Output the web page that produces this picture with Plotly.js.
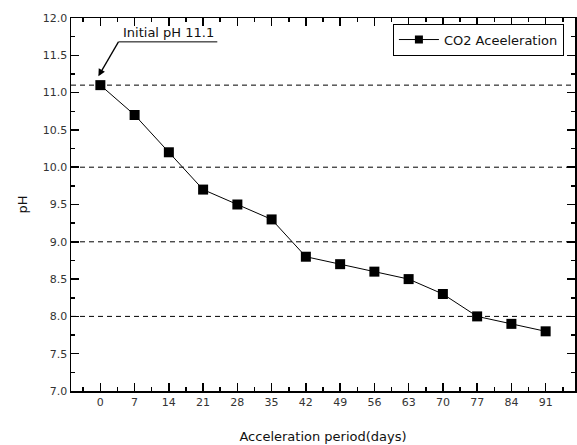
<!DOCTYPE html>
<html>
<head>
<meta charset="utf-8">
<script src="https://cdn.plot.ly/plotly-3.0.1.min.js"></script>
<style>html,body{margin:0;padding:0;background:#fff;}#chart{width:577px;height:445px;}</style>
</head>
<body>
<div id="chart"></div>
<script>
const days = [0, 7, 14, 21, 28, 35, 42, 49, 56, 63, 70, 77, 84, 91];
const phValues = [11.1, 10.7, 10.2, 9.7, 9.5, 9.3, 8.8, 8.7, 8.6, 8.5, 8.3, 8.0, 7.9, 7.8];
const seriesName = 'CO2 Aceeleration';
const refLevels = [11.1, 10.0, 9.0, 8.0];
const annotationText = 'Initial pH 11.1';
const xTitle = 'Acceleration period(days)';
const yTitle = 'pH';

const FONT = 'DejaVu Sans, sans-serif';

const trace = {
  x: days, y: phValues, name: seriesName, showlegend: false,
  type: 'scatter', mode: 'lines+markers',
  line: {color: '#000', width: 1},
  marker: {symbol: 'square', size: 10, color: '#000'}
};
// legend-only entry (smaller marker as in the reference legend)
const legendTrace = {
  x: [null], y: [null], name: seriesName, showlegend: true,
  type: 'scatter', mode: 'lines+markers',
  line: {color: '#000', width: 1},
  marker: {symbol: 'square', size: 8, color: '#000'}
};

const shapes = refLevels.map(v => ({
  type: 'line', xref: 'paper', x0: 0, x1: 1, yref: 'y', y0: v, y1: v,
  line: {color: '#000', width: 1, dash: '5px,4px'}, layer: 'below'
}));
// underline under the annotation text
shapes.push({type: 'line', xref: 'x', yref: 'y', x0: 3.7, x1: 23.9, y0: 11.68, y1: 11.68,
  line: {color: '#000', width: 1}});
// leader line from the underline to the point
shapes.push({type: 'path', xref: 'x', yref: 'y', path: 'M 3.7 11.68 L -0.2 11.24',
  line: {color: '#000', width: 1.3}});

const layout = {
  width: 577, height: 445,
  margin: {l: 71, r: 2, t: 18, b: 54},
  paper_bgcolor: '#fff', plot_bgcolor: '#fff',
  font: {family: FONT, color: '#222', size: 11},
  showlegend: true,
  legend: {x: 0.978, xanchor: 'right', y: 0.985, yanchor: 'top',
    bordercolor: '#000', borderwidth: 1, bgcolor: '#fff',
    font: {family: FONT, size: 13, color: '#111'}, itemwidth: 40,
    tracegroupgap: 0},
  xaxis: {
    range: [-6, 97], tickmode: 'array', tickvals: days,
    ticks: 'inside', ticklen: 8, tickwidth: 1.5, tickcolor: '#000',
    minor: {dtick: 3.5, tick0: 0, ticks: 'inside', ticklen: 4, tickcolor: '#000'},
    showline: true, linecolor: '#000', linewidth: 1.5, mirror: 'allticks',
    showgrid: false, zeroline: false,
    tickfont: {family: FONT, size: 11, color: '#333'},
    title: {text: xTitle, font: {family: FONT, size: 13, color: '#111'}, standoff: 24}
  },
  yaxis: {
    range: [7, 12], dtick: 0.5, tick0: 7, tickformat: '.1f',
    ticks: 'inside', ticklen: 8, tickwidth: 1.5, tickcolor: '#000',
    minor: {dtick: 0.25, tick0: 7, ticks: 'inside', ticklen: 4, tickcolor: '#000'},
    showline: true, linecolor: '#000', linewidth: 1.5, mirror: 'allticks',
    showgrid: false, zeroline: false,
    tickfont: {family: FONT, size: 11, color: '#333'},
    title: {text: yTitle, font: {family: FONT, size: 13, color: '#111'}, standoff: 12}
  },
  shapes: shapes,
  annotations: [
    {x: -0.4, y: 11.22, xref: 'x', yref: 'y', ax: 5, ay: -9,
     text: ' ', showarrow: true, arrowhead: 2, arrowsize: 1.4, arrowwidth: 1, arrowcolor: '#000'},
    {x: 13.9, y: 11.8, xref: 'x', yref: 'y', text: annotationText, showarrow: false,
     font: {family: FONT, size: 13, color: '#111'}}
  ]
};

Plotly.newPlot('chart', [trace, legendTrace], layout, {displayModeBar: false, staticPlot: true});
</script>
</body>
</html>
